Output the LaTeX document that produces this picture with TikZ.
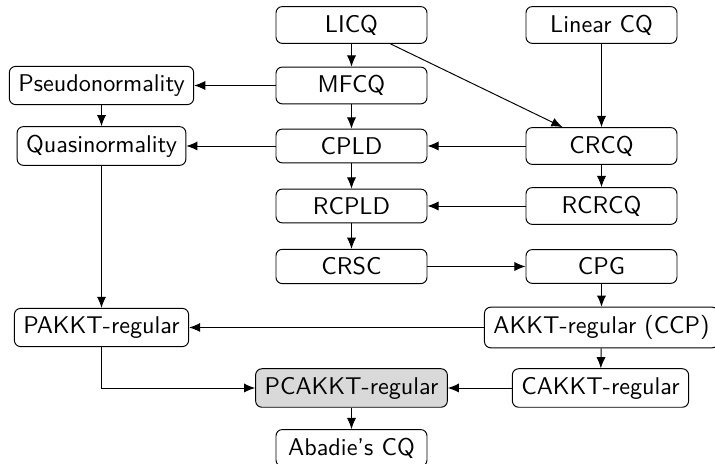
\documentclass[tikz,border=0pt]{standalone}
\usepackage{fontspec}
\usetikzlibrary{arrows.meta}
\begin{document}
\begin{tikzpicture}[x=0.4133pt,y=-0.4133pt,
  box/.style={draw,rounded corners=2.6pt,line width=0.4pt,inner xsep=3.7pt,inner ysep=3.4pt,font=\sffamily},
  wbox/.style={box,minimum width=62.4pt},
  arr/.style={-{Latex[length=4.6pt,width=3.8pt]},line width=0.4pt}]
\clip (0,0) rectangle (715,464);
\useasboundingbox (0,0) rectangle (715,464);
\node[wbox] (licq) at (351.5,25) {LICQ};
\node[wbox] (lin) at (601.5,25) {Linear CQ};
\node[box] (pseudo) at (101.5,85.5) {Pseudonormality};
\node[wbox] (mfcq) at (351.5,85.5) {MFCQ};
\node[box] (quasi) at (101.5,146) {Quasinormality};
\node[wbox] (cpld) at (351.5,146) {CPLD};
\node[wbox] (crcq) at (601.5,146) {CRCQ};
\node[wbox] (rcpld) at (351.5,206) {RCPLD};
\node[wbox] (rcrcq) at (601.5,206) {RCRCQ};
\node[wbox] (crsc) at (351.5,266.5) {CRSC};
\node[wbox] (cpg) at (601.5,266.5) {CPG};
\node[box] (pakkt) at (101.5,327.5) {PAKKT-regular};
\node[box] (akkt) at (601.5,327.5) {AKKT-regular (CCP)};
\node[box] (cakkt) at (600.5,388) {CAKKT-regular};
\node[box,fill=black!15] (pcakkt) at (351.5,388) {PCAKKT-regular};
\node[wbox] (abadie) at (351.5,448) {Abadie's CQ};
\draw[arr] (licq) -- (mfcq);
\draw[arr] (licq) -- (crcq);
\draw[arr] (lin) -- (crcq);
\draw[arr] (mfcq) -- (pseudo);
\draw[arr] (mfcq) -- (cpld);
\draw[arr] (pseudo) -- (quasi);
\draw[arr] (cpld) -- (quasi);
\draw[arr] (crcq) -- (cpld);
\draw[arr] (cpld) -- (rcpld);
\draw[arr] (crcq) -- (rcrcq);
\draw[arr] (rcrcq) -- (rcpld);
\draw[arr] (rcpld) -- (crsc);
\draw[arr] (crsc) -- (cpg);
\draw[arr] (cpg) -- (akkt);
\draw[arr] (quasi) -- (pakkt);
\draw[arr] (akkt) -- (pakkt);
\draw[arr] (akkt) -- (cakkt);
\draw[arr] (pakkt) |- (pcakkt);
\draw[arr] (cakkt) -- (pcakkt);
\draw[arr] (pcakkt) -- (abadie);
\end{tikzpicture}
\end{document}
